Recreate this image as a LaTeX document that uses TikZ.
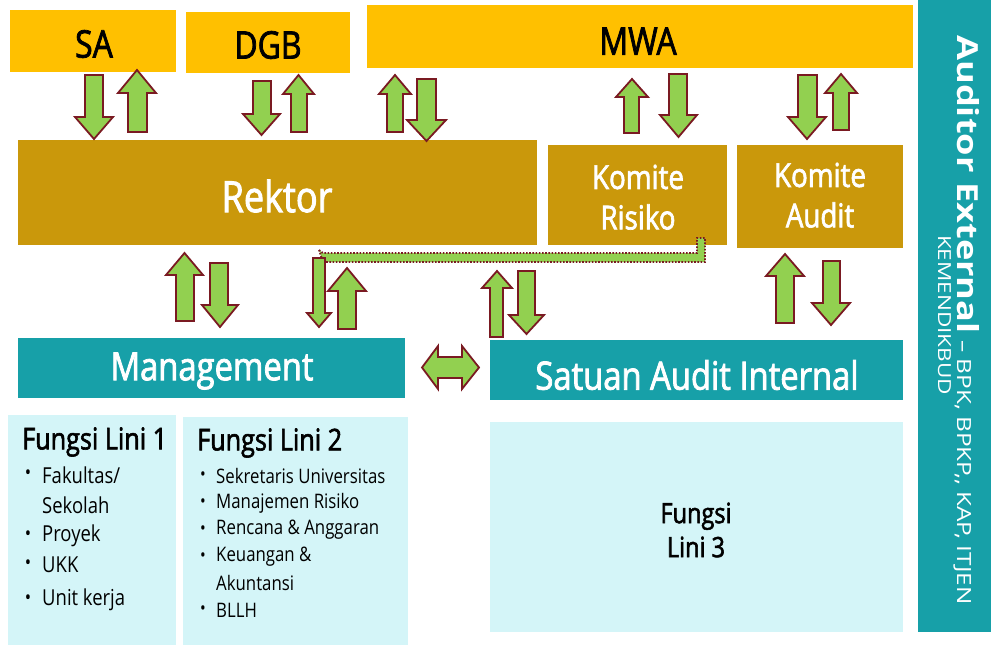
\documentclass[tikz,border=0pt]{standalone}
\usepackage{fontspec}
\setmainfont{Open Sans}[FakeStretch=0.84]
\newfontfamily\sbfont{Open Sans}[FakeStretch=0.84,FakeBold=2]
\newfontfamily\aefont{Open Sans}[FakeStretch=1.25]
\definecolor{orng}{HTML}{FFC000}
\definecolor{goldbox}{HTML}{CA980B}
\definecolor{tealbox}{HTML}{17A0A8}
\definecolor{lcyan}{HTML}{D4F5F8}
\definecolor{agreen}{HTML}{92D050}
\definecolor{aoutl}{HTML}{7A1A22}
\tikzset{
  boxst/.style={inner sep=0pt, outer sep=0pt, anchor=north west},
  blk/.style={fill=agreen, draw=aoutl, line width=1.8pt, line join=miter},
  fsz/.style={font=\fontsize{#1}{#1}\selectfont},
  sb/.style={font=\sbfont\fontsize{#1}{#1}\selectfont},
  item/.style={anchor=west, inner sep=0pt},
}
\newcommand\bx[6]{\node[boxst, fill=#6, minimum width={#4-#2}, minimum height={#5-#3}] (#1) at (#2,#3) {};}
% up arrow: xl, xr, shaft-l, shaft-r, tip, head-base, bottom
\newcommand\blkup[7]{\draw[blk] (#3,#7) -- (#3,#6) -- (#1,#6) -- ({(#1+#2)/2},#5) -- (#2,#6) -- (#4,#6) -- (#4,#7) -- cycle;}
% down arrow: xl, xr, shaft-l, shaft-r, top, head-base, tip
\newcommand\blkdown[7]{\draw[blk] (#3,#5) -- (#3,#6) -- (#1,#6) -- ({(#1+#2)/2},#7) -- (#2,#6) -- (#4,#6) -- (#4,#5) -- cycle;}
\begin{document}
\begin{tikzpicture}[x=1pt,y=-1pt]
\fill[white] (0,0) rectangle (991,645);
\useasboundingbox (0,0) rectangle (991,645);
% boxes
\bx{SA}{10}{10}{176}{72}{orng}
\bx{DGB}{186}{12}{350}{73}{orng}
\bx{MWA}{367}{5}{913}{68}{orng}
\bx{Rektor}{18}{140}{537}{245}{goldbox}
\bx{KR}{548}{145}{727}{245}{goldbox}
\bx{KA}{737}{145}{903}{248}{goldbox}
\bx{Mgmt}{18}{338}{405}{398}{tealbox}
\bx{SAI}{490}{340}{903}{400}{tealbox}
\bx{FL1}{8}{415}{176}{645}{lcyan}
\bx{FL2}{183}{417}{408}{645}{lcyan}
\bx{FL3}{490}{422}{903}{632}{lcyan}
\bx{AE}{918}{0}{991}{632}{tealbox}
% box labels
\node[sb=38] (tSA) at (94,44) {SA};
\node[sb=38] (tDGB) at (268,45) {DGB};
\node[sb=38] (tMWA) at (638,41) {MWA};
\node[sb=43, text=white] (tRektor) at (277,196) {Rektor};
\node[sb=33, text=white] (tKR1) at (638,177) {Komite};
\node[sb=33, text=white] (tKR2) at (638,217) {Risiko};
\node[sb=33, text=white] (tKA1) at (820,175) {Komite};
\node[sb=33, text=white] (tKA2) at (820,215) {Audit};
\node[sb=39, text=white] (tMgmt) at (212,371) {Management};
\node[sb=39, text=white] (tSAI) at (697,375) {Satuan Audit Internal};
% Fungsi Lini 1
\node[item, sb=30] (h1) at (22,442) {Fungsi Lini 1};
\node[fsz=20] (b11) at (28,475) {•};
\node[item, fsz=22] (i11) at (42,475) {Fakultas/};
\node[item, fsz=22] (i12) at (42,505) {Sekolah};
\node[fsz=20] (b13) at (28,536) {•};
\node[item, fsz=22] (i13) at (42,536) {Proyek};
\node[fsz=20] (b14) at (28,565) {•};
\node[item, fsz=22] (i14) at (42,565) {UKK};
\node[fsz=20] (b15) at (28,600) {•};
\node[item, fsz=22] (i15) at (42,600) {Unit kerja};
% Fungsi Lini 2
\node[item, sb=30] (h2) at (197,443) {Fungsi Lini 2};
\node[fsz=18] (b21) at (203,476) {•};
\node[item, fsz=20] (i21) at (216,476) {Sekretaris Universitas};
\node[fsz=18] (b22) at (203,503) {•};
\node[item, fsz=20] (i22) at (216,503) {Manajemen Risiko};
\node[fsz=18] (b23) at (203,530) {•};
\node[item, fsz=20] (i23) at (216,530) {Rencana \& Anggaran};
\node[fsz=18] (b24) at (203,557) {•};
\node[item, fsz=20] (i24) at (216,557) {Keuangan \&};
\node[item, fsz=20] (i25) at (216,583) {Akuntansi};
\node[fsz=18] (b26) at (203,610) {•};
\node[item, fsz=20] (i26) at (216,610) {BLLH};
% Fungsi Lini 3
\node[sb=28, align=center] (tFL3) at (696,530) {Fungsi\\[6pt]Lini 3};
% Auditor External
\node[rotate=-90, anchor=base west, inner sep=0pt, text=white, font=\aefont] (tAE1) at (957,35)
  {{\bfseries\fontsize{29}{29}\selectfont Auditor External}{\fontsize{19.5}{19.5}\selectfont\ – BPK, BPKP,, KAP, ITJEN}};
\node[rotate=-90, anchor=base, inner sep=0pt, text=white, font=\aefont\fontsize{18}{18}\selectfont] (tAE2) at (938,315) {KEMENDIKBUD};
% top arrows
\blkdown{75}{113}{85}{103}{75}{117}{139}
\blkup{118}{156}{128}{147}{70}{93}{132}
\blkdown{243}{280}{253}{271}{81}{114}{135}
\blkup{283}{314}{291}{307}{75}{94}{132}
\blkup{379}{411}{387}{403}{75}{94}{132}
\blkdown{407}{446}{417}{436}{79}{120}{141}
\blkup{616}{648}{624}{639}{79}{97}{133}
\blkdown{660}{697}{669}{687}{74}{115}{137}
\blkdown{788}{826}{798}{817}{75}{117}{139}
\blkup{825}{857}{833}{849}{74}{93}{130}
% lower arrows
\blkup{166}{203}{176}{194}{253}{275}{321}
\blkdown{202}{238}{210}{228}{263}{305}{327}
\blkup{328}{366}{338}{356}{268}{291}{329}
\blkup{482}{512}{490}{503}{271}{288}{337}
\blkdown{509}{544}{518}{535}{271}{315}{334}
\blkup{766}{804}{776}{794}{254}{276}{323}
\blkdown{812}{850}{823}{840}{261}{303}{325}
% dotted connector from Komite Risiko
\draw[fill=agreen, draw=aoutl, line width=1.8pt, dash pattern=on 1.6pt off 1.6pt]
  (319,250) -- (323,253) -- (697,253) -- (697,238) -- (705,238) -- (705,262) -- (323,262) -- cycle;
\blkdown{307}{331}{313}{325}{258}{313}{327}
% horizontal double arrow
\draw[blk] (422,367.5) -- (438,346) -- (438,357) -- (462,357) -- (462,346) -- (479,367.5)
  -- (462,389) -- (462,378) -- (438,378) -- (438,389) -- cycle;
\end{tikzpicture}
\end{document}
